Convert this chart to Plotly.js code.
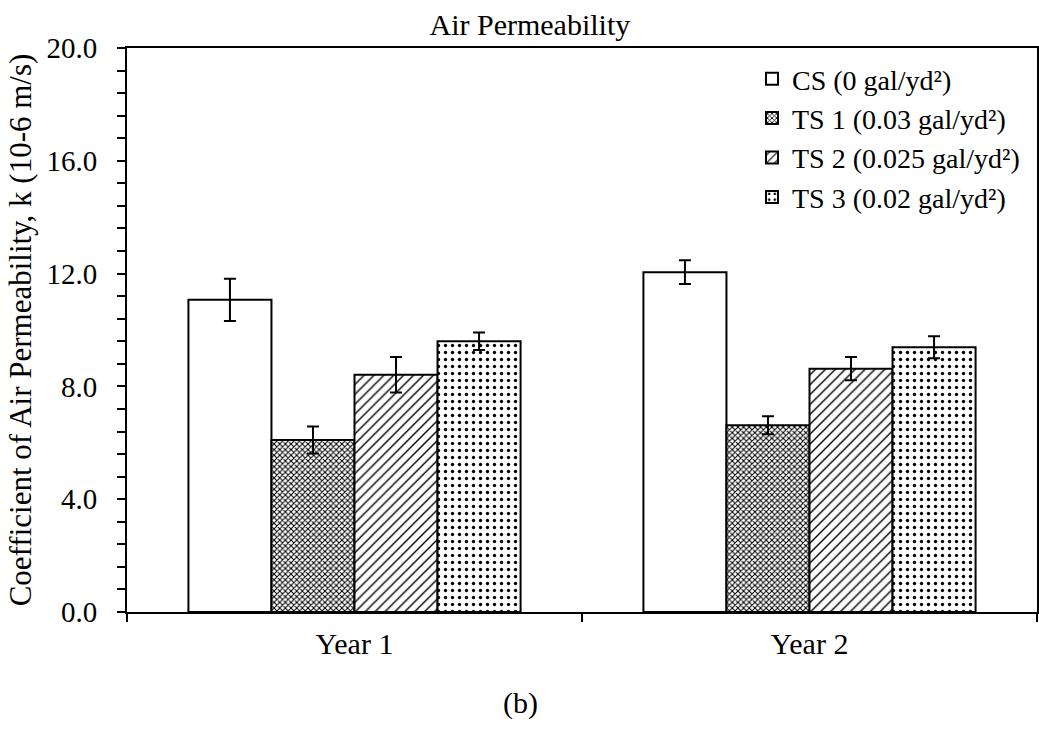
<!DOCTYPE html>
<html>
<head>
<meta charset="utf-8">
<script src="https://cdn.plot.ly/plotly-3.0.1.min.js"></script>
<style>html,body{margin:0;padding:0;background:#fff;}#chart{width:1039px;height:752px;}</style>
</head>
<body>
<div id="chart"></div>
<script>
const categories = ["Year 1", "Year 2"];
const seriesNames = ["CS (0 gal/yd²)", "TS 1 (0.03 gal/yd²)", "TS 2 (0.025 gal/yd²)", "TS 3 (0.02 gal/yd²)"];
const csValues = [11.07, 12.05];
const csErrors = [0.75, 0.42];
const ts1Values = [6.10, 6.62];
const ts1Errors = [0.48, 0.32];
const ts2Values = [8.41, 8.63];
const ts2Errors = [0.63, 0.41];
const ts3Values = [9.60, 9.39];
const ts3Errors = [0.31, 0.39];
const yTickVals = [0, 4, 8, 12, 16, 20];
const yTickText = ["0.0", "4.0", "8.0", "12.0", "16.0", "20.0"];

const values = [csValues, ts1Values, ts2Values, ts3Values];
const errors = [csErrors, ts1Errors, ts2Errors, ts3Errors];
const patterns = [
  {shape: ""},
  {shape: "x", size: 4, solidity: 0.45, fgcolor: "#000", bgcolor: "#fff"},
  {shape: "/", size: 7, solidity: 0.2, fgcolor: "#000", bgcolor: "#fff"},
  {shape: ".", size: 7, solidity: 0.18, fgcolor: "#000", bgcolor: "#fff"}
];

const traces = seriesNames.map((name, i) => ({
  type: "bar",
  name: name,
  x: categories,
  y: values[i],
  marker: {color: "#fff", line: {color: "#000", width: 2}, pattern: patterns[i]},
  error_y: {type: "data", array: errors[i], visible: true, color: "#000", thickness: 2, width: 6}
}));

const fam = "Liberation Serif, Times New Roman, serif";
const f = (s) => ({family: fam, size: s, color: "#000"});

const layout = {
  width: 1039, height: 752,
  margin: {l: 127, r: 2, t: 48, b: 140},
  paper_bgcolor: "#fff", plot_bgcolor: "#fff",
  font: f(30),
  barmode: "group", bargap: 0.27, bargroupgap: 0,
  title: {text: "Air Permeability", font: f(30), x: 0.51, xref: "container", xanchor: "center", y: 1 - 24 / 752, yref: "container", yanchor: "middle"},
  showlegend: true,
  legend: {x: (752 - 127) / 910, xanchor: "left", y: 1 - 6 / 564, yanchor: "top", bgcolor: "rgba(0,0,0,0)", font: f(28), traceorder: "normal", itemwidth: 30},
  xaxis: {
    showline: true, linecolor: "#000", linewidth: 2, mirror: true,
    ticks: "outside", tickson: "boundaries", ticklen: 8, tickwidth: 1.5, tickcolor: "#000",
    ticklabelstandoff: 4,
    tickfont: f(30), showgrid: false, zeroline: false
  },
  yaxis: {
    range: [0, 20], showline: true, linecolor: "#000", linewidth: 2, mirror: true,
    tickmode: "array", tickvals: yTickVals, ticktext: yTickText,
    ticks: "outside", ticklen: 8, tickwidth: 1.5, tickcolor: "#000",
    ticklabelstandoff: 14,
    minor: {dtick: 0.8, tick0: 0, ticks: "outside", ticklen: 8, tickwidth: 1.5, tickcolor: "#000", showgrid: false},
    tickfont: f(29), showgrid: false, zeroline: false,
    title: {text: "Coefficient of Air Permeability, k (10-6 m/s)", font: f(31), standoff: 6}
  },
  annotations: [{text: "(b)", xref: "paper", yref: "paper", x: (520 - 127) / 910, y: -(703 - 612) / 564, showarrow: false, font: f(30), xanchor: "center", yanchor: "middle"}]
};

Plotly.newPlot("chart", traces, layout, {displayModeBar: false});
</script>
</body>
</html>
